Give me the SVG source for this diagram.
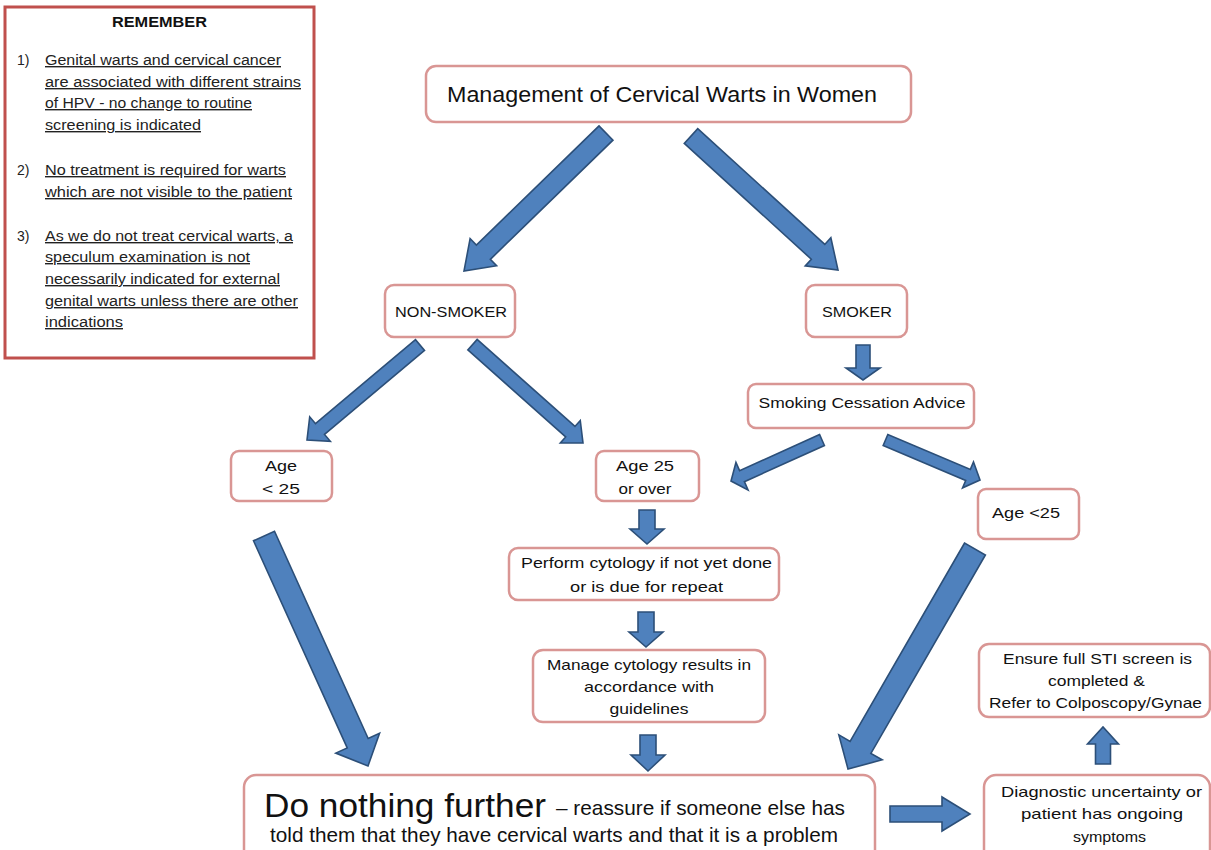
<svg xmlns="http://www.w3.org/2000/svg" width="1211" height="850" viewBox="0 0 1211 850">
<style>
.box{fill:#fff;stroke:#D99694;stroke-width:2.5}
.arr{fill:#4F81BD;stroke:#2C4F78;stroke-width:1.6;stroke-linejoin:miter}
text{font-family:"Liberation Sans",Arial,sans-serif;fill:#111}
.t15{font-size:15px}
.rem{font-size:14px;fill:#222}
.ul{text-decoration:underline}
.c{text-anchor:middle}
</style>
<rect width="1211" height="850" fill="#fff"/>
<g id="remember">
<rect x="5" y="7" width="309" height="351" fill="#fff" stroke="#C0504D" stroke-width="3"/>
<text x="159.5" y="27" class="c" font-size="14" font-weight="bold" textLength="95" lengthAdjust="spacingAndGlyphs">REMEMBER</text>
<text x="17" y="65" class="rem">1)</text>
<text x="45" y="65" class="rem ul" textLength="236" lengthAdjust="spacingAndGlyphs">Genital warts and cervical cancer</text>
<text x="45" y="87" class="rem ul" textLength="256" lengthAdjust="spacingAndGlyphs">are associated with different strains</text>
<text x="45" y="108" class="rem ul" textLength="207" lengthAdjust="spacingAndGlyphs">of HPV - no change to routine</text>
<text x="45" y="130" class="rem ul" textLength="156" lengthAdjust="spacingAndGlyphs">screening is indicated</text>
<text x="17" y="175" class="rem">2)</text>
<text x="45" y="175" class="rem ul" textLength="241" lengthAdjust="spacingAndGlyphs">No treatment is required for warts</text>
<text x="45" y="197" class="rem ul" textLength="247" lengthAdjust="spacingAndGlyphs">which are not visible to the patient</text>
<text x="17" y="241" class="rem">3)</text>
<text x="45" y="241" class="rem ul" textLength="248" lengthAdjust="spacingAndGlyphs">As we do not treat cervical warts, a</text>
<text x="45" y="262" class="rem ul" textLength="205" lengthAdjust="spacingAndGlyphs">speculum examination is not</text>
<text x="45" y="284" class="rem ul" textLength="235" lengthAdjust="spacingAndGlyphs">necessarily indicated for external</text>
<text x="45" y="306" class="rem ul" textLength="253" lengthAdjust="spacingAndGlyphs">genital warts unless there are other</text>
<text x="45" y="327" class="rem ul" textLength="78" lengthAdjust="spacingAndGlyphs">indications</text>
</g>
<g id="title">
<rect x="426" y="66" width="485" height="56" rx="10" class="box"/>
<text x="447" y="102" font-size="22" textLength="430" lengthAdjust="spacingAndGlyphs">Management of Cervical Warts in Women</text>
</g>
<g id="nonsmoker">
<rect x="385" y="285" width="130" height="52" rx="9" class="box"/>
<text x="451" y="317" class="t15 c" textLength="112" lengthAdjust="spacingAndGlyphs">NON-SMOKER</text>
</g>
<g id="smoker">
<rect x="806" y="285" width="101" height="52" rx="9" class="box"/>
<text x="857" y="317" class="t15 c" textLength="70" lengthAdjust="spacingAndGlyphs">SMOKER</text>
</g>
<g id="cessation">
<rect x="748" y="384" width="226" height="44" rx="8" class="box"/>
<text x="862" y="408" class="t15 c" textLength="207" lengthAdjust="spacingAndGlyphs">Smoking Cessation Advice</text>
</g>
<g id="age-under25-left">
<rect x="231" y="451" width="101" height="50" rx="8" class="box"/>
<text x="281" y="471" class="t15 c" textLength="32" lengthAdjust="spacingAndGlyphs">Age</text>
<text x="281" y="494" class="t15 c" textLength="38" lengthAdjust="spacingAndGlyphs">&lt; 25</text>
</g>
<g id="age-25-over">
<rect x="596" y="451" width="103" height="50" rx="8" class="box"/>
<text x="645" y="471" class="t15 c" textLength="58" lengthAdjust="spacingAndGlyphs">Age 25</text>
<text x="645" y="494" class="t15 c" textLength="53" lengthAdjust="spacingAndGlyphs">or over</text>
</g>
<g id="age-under25-right">
<rect x="978" y="489" width="101" height="50" rx="8" class="box"/>
<text x="1026" y="518" class="t15 c" textLength="68" lengthAdjust="spacingAndGlyphs">Age &lt;25</text>
</g>
<g id="cytology">
<rect x="509" y="548" width="270" height="52" rx="9" class="box"/>
<text x="646.5" y="568" class="t15 c" textLength="251" lengthAdjust="spacingAndGlyphs">Perform cytology if not yet done</text>
<text x="646.5" y="592" class="t15 c" textLength="153" lengthAdjust="spacingAndGlyphs">or is due for repeat</text>
</g>
<g id="manage">
<rect x="533" y="650" width="232" height="72" rx="10" class="box"/>
<text x="649" y="670" class="t15 c" textLength="204" lengthAdjust="spacingAndGlyphs">Manage cytology results in</text>
<text x="649" y="692" class="t15 c" textLength="130" lengthAdjust="spacingAndGlyphs">accordance with</text>
<text x="649" y="714" class="t15 c" textLength="79" lengthAdjust="spacingAndGlyphs">guidelines</text>
</g>
<g id="ensure">
<rect x="979" y="644" width="231" height="73" rx="10" class="box"/>
<text x="1097.5" y="664" class="t15 c" textLength="189" lengthAdjust="spacingAndGlyphs">Ensure full STI screen is</text>
<text x="1096.5" y="686" class="t15 c" textLength="97" lengthAdjust="spacingAndGlyphs">completed &amp;</text>
<text x="1095.5" y="708" class="t15 c" textLength="213" lengthAdjust="spacingAndGlyphs">Refer to Colposcopy/Gynae</text>
</g>
<g id="do-nothing">
<rect x="244" y="775" width="631" height="100" rx="12" class="box"/>
<text x="264" y="817" font-size="34" textLength="282" lengthAdjust="spacingAndGlyphs">Do nothing further</text>
<text x="556" y="815" font-size="21" textLength="289" lengthAdjust="spacingAndGlyphs">– reassure if someone else has</text>
<text x="270" y="842" font-size="21" textLength="568" lengthAdjust="spacingAndGlyphs">told them that they have cervical warts and that it is a problem</text>
</g>
<g id="diagnostic">
<rect x="984" y="775" width="226" height="100" rx="12" class="box"/>
<text x="1101.5" y="797" class="t15 c" textLength="201" lengthAdjust="spacingAndGlyphs">Diagnostic uncertainty or</text>
<text x="1102" y="819" class="t15 c" textLength="162" lengthAdjust="spacingAndGlyphs">patient has ongoing</text>
<text x="1109.5" y="842" class="t15 c" font-size="16" textLength="73" lengthAdjust="spacingAndGlyphs">symptoms</text>
</g>
<g id="connectors">
<polygon class="arr" points="599.03,125.83 476.39,245.01 470.12,238.55 464,271 496.60,265.81 490.33,259.35 612.97,140.17"/>
<polygon class="arr" points="684.26,143.39 811.31,259.20 805.25,265.85 838,270 830.85,237.77 824.79,244.42 697.74,128.61"/>
<polygon class="arr" points="415.49,339.64 315.50,423.70 309.71,416.81 307,440 330.31,441.31 324.52,434.42 424.51,350.36"/>
<polygon class="arr" points="467.85,349.93 565.65,436.93 560.33,442.91 583,443 580.27,420.49 574.95,426.47 477.15,339.47"/>
<polygon class="arr" points="856,345 856,368 846,368 863,380 880,368 870,368 870,345"/>
<polygon class="arr" points="819.59,434.51 739.58,470.68 735.95,462.44 731,481 748.03,489.90 744.40,481.66 824.41,445.49"/>
<polygon class="arr" points="883.16,445.53 965.69,480.46 962.57,487.82 980,480 973.49,462.04 970.37,469.40 887.84,434.47"/>
<polygon class="arr" points="639,510 639,529 630,529 647,544 664,529 655,529 655,510"/>
<polygon class="arr" points="638,612 638,632 629,632 646,647 663,632 654,632 654,612"/>
<polygon class="arr" points="640,735 640,755 631,755 648,771 665,755 656,755 656,735"/>
<polygon class="arr" points="253.52,540.74 347.22,747.96 335.83,753.11 368,766 379.57,733.33 368.18,738.48 274.48,531.26"/>
<polygon class="arr" points="964.61,543.0 850.11,741.35 838.85,734.85 848,769 882.15,759.85 870.89,753.35 985.39,555.0"/>
<polygon class="arr" points="890,806 942,806 942,797 970,814 942,831 942,822 890,822"/>
<polygon class="arr" points="1095.5,764 1095.5,744 1087.5,744 1103,727 1118.5,744 1110.5,744 1110.5,764"/>
</g>
</svg>
